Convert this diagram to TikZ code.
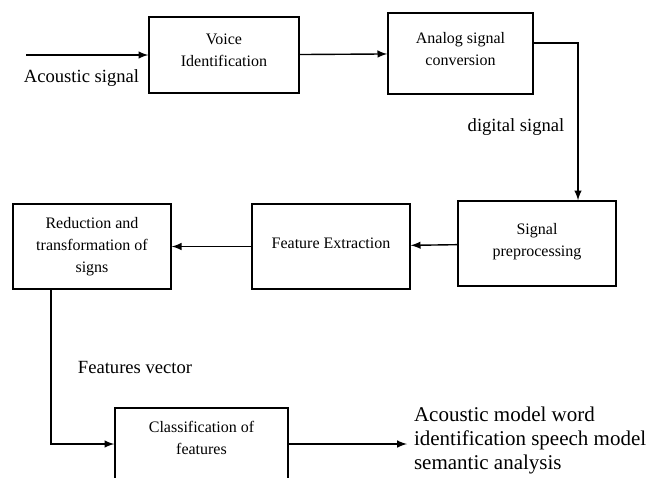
\documentclass[tikz,border=0pt]{standalone}
\usepackage{fontspec}
\setmainfont{Liberation Serif}

\begin{document}
\begin{tikzpicture}[x=0.5pt, y=-0.5pt,
  block/.style={draw, line width=0.7pt, align=center, inner sep=2pt,
    font=\fontsize{8}{11}\selectfont},
  lbl/.style={font=\fontsize{9.3}{11}\selectfont}]
\useasboundingbox (0,0) rectangle (652,477);

\node[block, minimum width=75pt, minimum height=38pt, text depth=5pt] at (224,55) (voice) {Voice\\Identification};
\node[block, minimum width=72.5pt, minimum height=40.5pt, text depth=5pt] at (460.5,53.5) (analog) {Analog signal\\conversion};
\node[block, minimum width=79pt, minimum height=42.5pt, text depth=4pt] at (537,243.5) (sigpre) {Signal\\preprocessing};
\node[block, minimum width=79pt, minimum height=42.5pt, text depth=3pt] at (331,246.5) (featex) {Feature Extraction};
\node[block, minimum width=79pt, minimum height=42.5pt] at (92,246.5) (reduct) {Reduction and\\transformation of\\signs};
\node[block, minimum width=86.5pt, minimum height=36pt, text depth=6pt] at (201.5,444) (classif) {Classification of\\features};

\coordinate (in) at (26,55);
\node[lbl] at (81.5,78) (acoustic) {Acoustic signal};
\node[lbl] at (516,127) (digital) {digital signal};
\node[lbl] at (135,367) (fvec) {Features vector};
\node[align=left, anchor=west, font=\fontsize{10.5}{12}\selectfont] at (407,440) (result) {Acoustic model word\\identification speech model\\semantic analysis};

\path[->, >=latex, line width=0.7pt] (in) edge (voice);
\path[->, >=latex, line width=0.7pt] (voice) edge (analog);
\draw[->, >=latex, line width=0.7pt] ([yshift=5.25pt]analog.east) -| ([xshift=20.5pt]sigpre.north);
\path[->, >=latex, line width=0.7pt] (sigpre) edge (featex);
\path[->, >=latex, line width=0.7pt] (featex) edge (reduct);
\draw[->, >=latex, line width=0.7pt] ([xshift=-20.5pt]reduct.south) |- (classif.west);
\draw[->, >=latex, line width=0.7pt] (classif.east) -- (result.west |- classif.east);

\end{tikzpicture}
\end{document}
